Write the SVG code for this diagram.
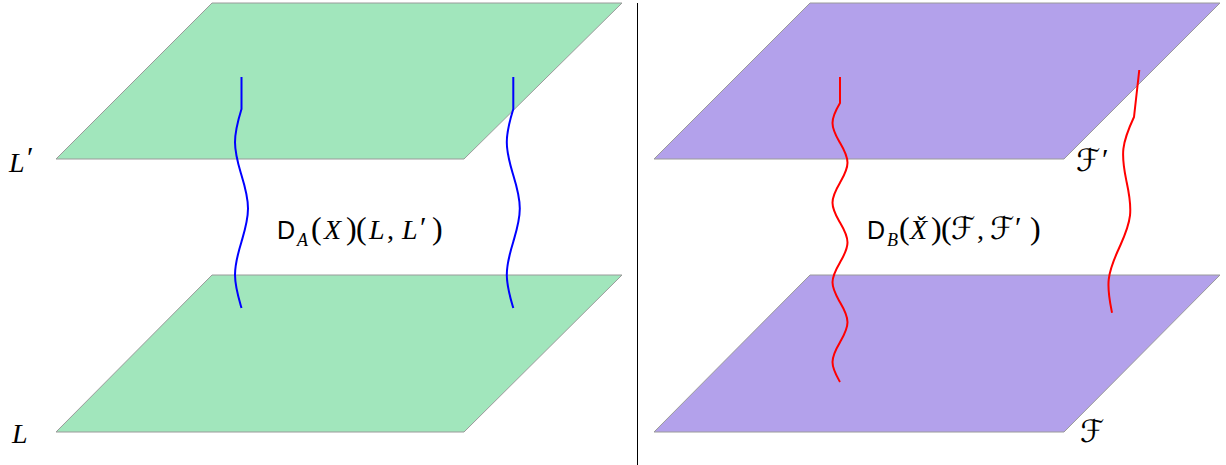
<svg xmlns="http://www.w3.org/2000/svg" width="1226" height="465" viewBox="0 0 1226 465">
<style>
.green{fill:#a1e6bc;stroke:#9a9a9a;stroke-width:1}
.purple{fill:#b3a1eb;stroke:#9a9a9a;stroke-width:1}
.blue{fill:none;stroke:#0000ff;stroke-width:2}
.red{fill:none;stroke:#ff0000;stroke-width:2}
.m{font-family:"Liberation Serif","DejaVu Serif",serif;font-size:28px;fill:#000}
.p{font-family:"Liberation Serif","DejaVu Serif",serif;font-size:32px;fill:#000}
.i{font-style:italic}
.sf{font-family:"Liberation Sans","DejaVu Sans",sans-serif;font-size:25px}
.sub{font-size:18px}
.scr{font-family:"DejaVu Serif","DejaVu Sans",serif;font-style:italic;font-size:31px}
.pr{font-family:"Liberation Serif","DejaVu Serif",serif;font-size:30px}
</style>
<rect width="1226" height="465" fill="#fff"/>
<g id="left-top-plane"><polygon class="green" points="56,159 464,159 622,3 212,3"/></g>
<g id="left-bottom-plane"><polygon class="green" points="56,432 464,432 622,275 212,275"/></g>
<g id="right-top-plane"><polygon class="purple" points="654,159 1064,159 1220,3 810,3"/></g>
<g id="right-bottom-plane"><polygon class="purple" points="654,432 1064,432 1220,275 810,275"/></g>
<line x1="637.5" y1="3" x2="637.5" y2="465" stroke="#000" stroke-width="1"/>
<g id="connectors">
<path class="blue" d="M241.5 77 v32 c-3.33 10.81 -6.5 21.16 -6.5 33.17 c0 12.01 3.33 22.36 6.5 33.17 c3.33 10.81 6.5 21.16 6.5 33.17 c0 12.01 -3.33 22.36 -6.5 33.17 c-3.33 10.81 -6.5 21.16 -6.5 33.17 c0 12.01 3.33 22.36 6.5 33.17"/>
<path class="blue" d="M513.3 77 v32 c-3.33 10.81 -6.5 21.16 -6.5 33.17 c0 12.01 3.33 22.36 6.5 33.17 c3.33 10.81 6.5 21.16 6.5 33.17 c0 12.01 -3.33 22.36 -6.5 33.17 c-3.33 10.81 -6.5 21.16 -6.5 33.17 c0 12.01 3.33 22.36 6.5 33.17"/>
<path class="red" d="M840 77 v26 c-3.84 6.5 -7.5 12.71 -7.5 19.93 c0 7.21 3.84 13.43 7.5 19.930 c3.84 6.5 7.5 12.71 7.5 19.93 c0 7.21 -3.84 13.43 -7.5 19.93 c-3.84 6.5 -7.5 12.71 -7.5 19.93 c0 7.21 3.84 13.43 7.5 19.93 c3.84 6.5 7.5 12.71 7.5 19.93 c0 7.21 -3.84 13.43 -7.5 19.93 c-3.84 6.5 -7.5 12.71 -7.5 19.93 c0 7.21 3.84 13.43 7.5 19.93 c3.84 6.5 7.5 12.71 7.5 19.93 c0 7.21 -3.84 13.43 -7.5 19.93 c-3.84 6.5 -7.5 12.71 -7.5 19.93 c0 7.21 3.84 13.43 7.5 19.93"/>
<path class="red" transform="translate(1134 117) rotate(6.4)" d="M0 -47.3 V0 c-3.59 10.69 -7 20.93 -7 32.83 c0 11.88 3.59 22.13 7 32.83 c3.59 10.69 7 20.93 7 32.83 c0 11.88 -3.59 22.13 -7 32.83 c-3.59 10.69 -7 20.93 -7 32.83 c0 11.88 3.59 22.13 7 32.83"/>
</g>
<g id="labels">
<text class="m i" x="9" y="172">L</text><text class="pr" x="27" y="167">′</text>
<text class="m i" x="12" y="443">L</text>
<text class="scr" x="1076" y="171">ℱ</text><text class="pr" x="1102" y="169">′</text>
<text class="scr" x="1080" y="442">ℱ</text>
</g>
<g id="left-formula">
<text class="sf" x="277" y="239">D</text>
<text class="m i sub" x="297" y="246">A</text>
<text class="p" x="311" y="239">(</text>
<text class="m i" x="324" y="239">X</text>
<text class="p" x="346" y="239">)</text>
<text class="p" x="356" y="239">(</text>
<text class="m i" x="369" y="239">L</text>
<text class="m" x="387" y="239">,</text>
<text class="m i" x="402" y="239">L</text>
<text class="pr" x="420" y="237">′</text>
<text class="p" x="432" y="239">)</text>
</g>
<g id="right-formula">
<text class="sf" x="867" y="239">D</text>
<text class="m i sub" x="887" y="246">B</text>
<text class="p" x="899" y="239">(</text>
<text class="m i" x="910" y="239">X̌</text>
<text class="p" x="931" y="239">)</text>
<text class="p" x="941" y="239">(</text>
<text class="scr" x="951" y="239">ℱ</text>
<text class="m" x="977" y="239">,</text>
<text class="scr" x="990" y="239">ℱ</text>
<text class="pr" x="1015" y="237">′</text>
<text class="p" x="1030" y="239">)</text>
</g>
</svg>
